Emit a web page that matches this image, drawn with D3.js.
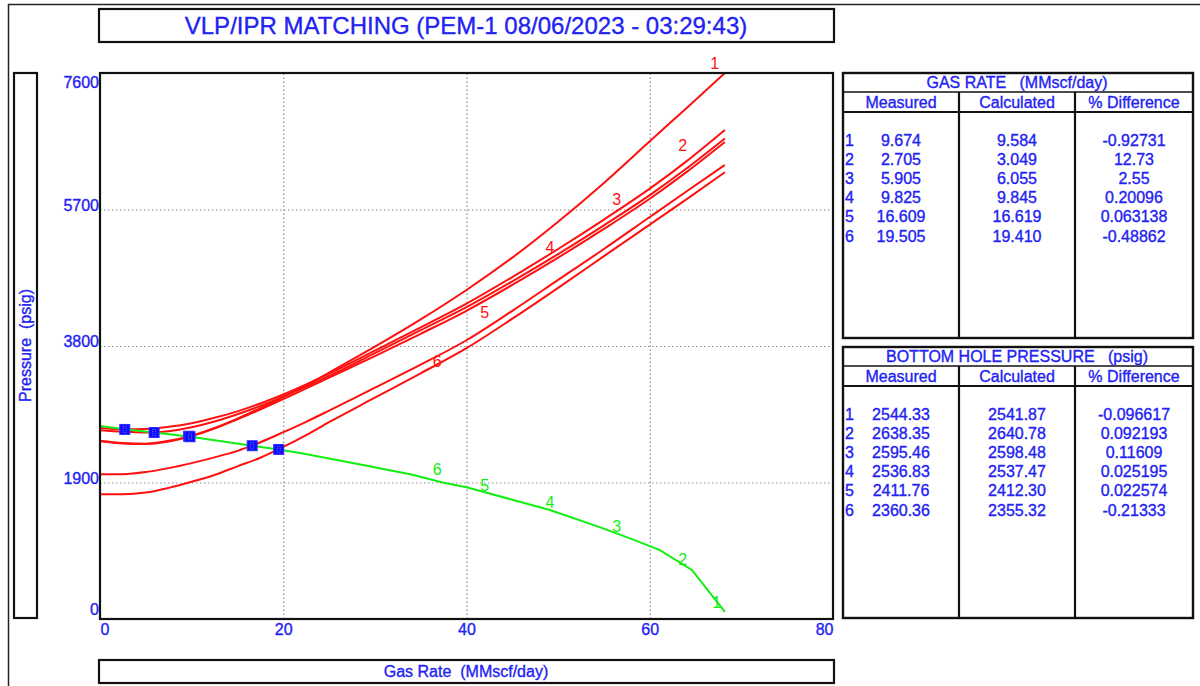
<!DOCTYPE html>
<html><head><meta charset="utf-8">
<script src="https://cdn.jsdelivr.net/npm/d3@7"></script>
<style>
html,body{margin:0;padding:0;background:#fff;}
svg{display:block;font-family:"Liberation Sans",Arial,sans-serif;}
</style></head><body>
<svg id="chart" width="1200" height="686"></svg>
<script>
// ---- data ----
const xTicks = [0, 20, 40, 60, 80];
const yTicks = [0, 1900, 3800, 5700, 7600];
const pointIds = [1, 2, 3, 4, 5, 6];

// test points: gas rate (MMscf/day) and bottom hole pressure (psig)
const measuredRate = [9.674, 2.705, 5.905, 9.825, 16.609, 19.505];
const calculatedRate = [9.584, 3.049, 6.055, 9.845, 16.619, 19.410];
const rateDiff = [-0.92731, 12.73, 2.55, 0.20096, 0.063138, -0.48862];
const measuredBhp = [2544.33, 2638.35, 2595.46, 2536.83, 2411.76, 2360.36];
const calculatedBhp = [2541.87, 2640.78, 2598.48, 2537.47, 2412.30, 2355.32];
const bhpDiff = [-0.096617, 0.092193, 0.11609, 0.025195, 0.022574, -0.21333];

// VLP curves (one per test point), pressures on a common gas rate grid
const vlpRate = [0, 2.5, 5, 7.5, 10, 12.5, 15, 17.5, 20, 22.5, 25, 30, 35, 40, 45, 50, 55, 60, 64, 68.2];
const vlp1 = [2482, 2450, 2440, 2480, 2552, 2660, 2790, 2935, 3090, 3255, 3430, 3790, 4170, 4580, 5030, 5530, 6070, 6650, 7110, 7600];
const vlp2 = [2660, 2641, 2645, 2675, 2725, 2800, 2890, 3000, 3125, 3265, 3415, 3735, 4060, 4390, 4760, 5150, 5560, 5990, 6370, 6807];
const vlp3 = [2628, 2608, 2597, 2615, 2670, 2750, 2850, 2965, 3095, 3235, 3385, 3700, 4020, 4340, 4700, 5080, 5480, 5900, 6270, 6690];
const vlp4 = [2475, 2443, 2435, 2470, 2545, 2650, 2780, 2915, 3060, 3210, 3360, 3660, 3970, 4290, 4650, 5030, 5430, 5850, 6220, 6640];
const vlp5 = [2014, 2016, 2045, 2100, 2170, 2250, 2340, 2460, 2600, 2745, 2900, 3220, 3540, 3880, 4290, 4720, 5150, 5595, 5950, 6320];
const vlp6 = [1736, 1736, 1760, 1825, 1910, 2005, 2125, 2245, 2395, 2560, 2740, 3080, 3420, 3770, 4180, 4610, 5050, 5490, 5840, 6218];
const vlpCurves = [vlp1, vlp2, vlp3, vlp4, vlp5, vlp6];

// IPR curve
const iprRate = [0, 2.7, 5.9, 9.7, 16.6, 19.5, 22, 28.7, 34, 37.4, 40, 45, 49.1, 54.6, 58, 61.1, 64.6, 68.2];
const iprPressure = [2686, 2640, 2596, 2540, 2412, 2360, 2308, 2144, 2010, 1900, 1833, 1660, 1517, 1276, 1115, 960, 682, 100];

// curve number labels (gas rate, pressure), for points 1..6
const vlpLabelRate = [67.1, 63.6, 56.4, 49.1, 42.0, 36.8];
const vlpLabelPressure = [7739, 6584, 5846, 5178, 4260, 3591];
const iprLabelRate = [67.3, 63.6, 56.4, 49.1, 42.0, 36.8];
const iprLabelPressure = [223, 835, 1281, 1615, 1865, 2074];

// ---- layout ----
const BLUE = "#2222f2";
const RED = "#ff1010";
const GREEN = "#12ee12";
const plot = {left: 100, right: 833, top: 73, bottom: 619};

const svg = d3.select("#chart");

const x = d3.scaleLinear().domain([0, 80]).range([plot.left, plot.right]);
const y = d3.scaleLinear().domain([0, 7600]).range([plot.bottom, plot.top]);

// slightly heavier text strokes, like the screen font of the well test report
function ink(sel, color) {
  return sel.attr("fill", color).attr("stroke", color).attr("stroke-width", 0.35);
}

// outer frame
svg.append("line").attr("x1", 8).attr("x2", 1200).attr("y1", 4.5).attr("y2", 4.5)
  .attr("stroke", "#222").attr("stroke-width", 1.5);
svg.append("line").attr("x1", 8.5).attr("x2", 8.5).attr("y1", 4).attr("y2", 686)
  .attr("stroke", "#222").attr("stroke-width", 1.5);

function box(x0, y0, x1, y1) {
  return svg.append("rect").attr("x", x0).attr("y", y0)
    .attr("width", x1 - x0).attr("height", y1 - y0)
    .attr("fill", "none").attr("stroke", "#111").attr("stroke-width", 2.2);
}

// title
box(99, 9, 834, 42);
ink(svg.append("text").attr("x", 466).attr("y", 34).attr("text-anchor", "middle")
  .attr("font-size", 24), BLUE)
  .text("VLP/IPR MATCHING (PEM-1 08/06/2023 - 03:29:43)");

// axis title boxes
box(14, 73, 37, 618);
ink(svg.append("text").attr("transform", "translate(31,345.5) rotate(-90)")
  .attr("text-anchor", "middle").attr("font-size", 16), BLUE)
  .attr("xml:space", "preserve").text("Pressure  (psig)");
box(99, 660, 834, 683);
ink(svg.append("text").attr("x", 466).attr("y", 677).attr("text-anchor", "middle")
  .attr("font-size", 16), BLUE)
  .attr("xml:space", "preserve").text("Gas Rate  (MMscf/day)");

// gridlines
const grid = svg.append("g");
grid.append("g").attr("transform", `translate(0,${plot.bottom})`)
  .call(d3.axisBottom(x).tickValues(xTicks.slice(1, -1)).tickSize(-(plot.bottom - plot.top)).tickFormat(""))
  .call(g => g.select(".domain").remove());
grid.append("g").attr("transform", `translate(${plot.left},0)`)
  .call(d3.axisLeft(y).tickValues(yTicks.slice(1, -1)).tickSize(-(plot.right - plot.left)).tickFormat(""))
  .call(g => g.select(".domain").remove());
grid.selectAll("line").attr("stroke", "#8a8a8a").attr("stroke-width", 1.2).attr("stroke-dasharray", "1.5,2.5");

// tick labels
const xAxis = svg.append("g").attr("transform", `translate(0,${plot.bottom})`)
  .call(d3.axisBottom(x).tickValues(xTicks).tickSize(0).tickPadding(0).tickFormat(d3.format("d")));
xAxis.select(".domain").remove();
ink(xAxis.selectAll("text").attr("font-size", 16).attr("font-family", null), BLUE)
  .attr("dy", null).attr("y", 16)
  .attr("text-anchor", (d, i) => i === 0 ? "start" : (i === xTicks.length - 1 ? "end" : "middle"));

const yAxis = svg.append("g").attr("transform", `translate(${plot.left - 1},0)`)
  .call(d3.axisLeft(y).tickValues(yTicks).tickSize(0).tickPadding(0).tickFormat(d3.format("d")));
yAxis.select(".domain").remove();
yAxis.selectAll(".tick").attr("transform", d => `translate(0,${Math.max(plot.top + 15, Math.min(plot.bottom - 4, y(d) + 1))})`);
ink(yAxis.selectAll("text").attr("font-size", 16).attr("font-family", null), BLUE)
  .attr("dy", null).attr("x", 0).attr("text-anchor", "end");

// curves
const vlpLine = d3.line().x(d => x(d[0])).y(d => y(d[1])).curve(d3.curveMonotoneX);
const curves = svg.append("g");
vlpCurves.forEach(p => {
  curves.append("path").datum(vlpRate.map((r, i) => [r, p[i]]))
    .attr("d", vlpLine).attr("fill", "none").attr("stroke", RED).attr("stroke-width", 2);
});
const iprLine = d3.line().x(d => x(d[0])).y(d => y(d[1]));
curves.append("path").datum(iprRate.map((r, i) => [r, iprPressure[i]]))
  .attr("d", iprLine).attr("fill", "none").attr("stroke", GREEN).attr("stroke-width", 2);

// curve number labels
const labels = svg.append("g").attr("font-size", 16).attr("text-anchor", "middle").attr("dominant-baseline", "central");
pointIds.forEach((id, i) => {
  labels.append("text").attr("x", x(vlpLabelRate[i])).attr("y", y(vlpLabelPressure[i]))
    .attr("fill", RED).text(id);
  labels.append("text").attr("x", x(iprLabelRate[i])).attr("y", y(iprLabelPressure[i]))
    .attr("fill", GREEN).text(id);
});

// measured test points
const markers = svg.append("g");
pointIds.forEach((id, i) => {
  const cx = x(measuredRate[i]), cy = y(measuredBhp[i]);
  markers.append("rect").attr("x", cx - 5).attr("y", cy - 5).attr("width", 10).attr("height", 10)
    .attr("fill", "#0a0aff").attr("stroke", "#3030ff").attr("stroke-width", 1);
  markers.append("rect").attr("x", cx - 1.5).attr("y", cy - 3).attr("width", 3).attr("height", 6)
    .attr("fill", "none").attr("stroke", "#7a7aff").attr("stroke-width", 0.8).attr("stroke-dasharray", "1.2,1");
});

// plot frame
box(plot.left, plot.top, plot.right, plot.bottom);

// result tables
const colX = [843, 959, 1075, 1193];
function table(y0, y1, title, rows) {
  const g = svg.append("g");
  const hdr1 = y0 + 19, hdr2 = y0 + 39;
  g.append("rect").attr("x", colX[0]).attr("y", y0).attr("width", colX[3] - colX[0]).attr("height", y1 - y0)
    .attr("fill", "none").attr("stroke", "#111").attr("stroke-width", 2.4);
  g.append("line").attr("x1", colX[0]).attr("x2", colX[3]).attr("y1", hdr1).attr("y2", hdr1)
    .attr("stroke", "#111").attr("stroke-width", 1.6);
  g.append("line").attr("x1", colX[0]).attr("x2", colX[3]).attr("y1", hdr2).attr("y2", hdr2)
    .attr("stroke", "#111").attr("stroke-width", 2.2);
  [colX[1], colX[2]].forEach(cx => g.append("line").attr("x1", cx).attr("x2", cx)
    .attr("y1", hdr1).attr("y2", y1).attr("stroke", "#111").attr("stroke-width", 2.2));
  const t = ink(g.append("g").attr("font-size", 16), BLUE);
  t.append("text").attr("x", 1017).attr("y", y0 + 15).attr("text-anchor", "middle")
    .attr("xml:space", "preserve").text(title);
  ["Measured", "Calculated", "% Difference"].forEach((h, j) =>
    t.append("text").attr("x", (colX[j] + colX[j + 1]) / 2).attr("y", hdr1 + 16)
      .attr("text-anchor", "middle").text(h));
  rows.forEach((r, i) => {
    const ty = y0 + 73 + i * 19.1;
    t.append("text").attr("x", 845).attr("y", ty).text(pointIds[i]);
    r.forEach((v, j) => t.append("text").attr("x", (colX[j] + colX[j + 1]) / 2).attr("y", ty)
      .attr("text-anchor", "middle").text(v));
  });
}
table(73, 338, "GAS RATE   (MMscf/day)",
  pointIds.map((d, i) => [measuredRate[i].toFixed(3), calculatedRate[i].toFixed(3), String(rateDiff[i])]));
table(347, 618, "BOTTOM HOLE PRESSURE   (psig)",
  pointIds.map((d, i) => [measuredBhp[i].toFixed(2), calculatedBhp[i].toFixed(2), String(bhpDiff[i])]));
</script>
</body></html>
